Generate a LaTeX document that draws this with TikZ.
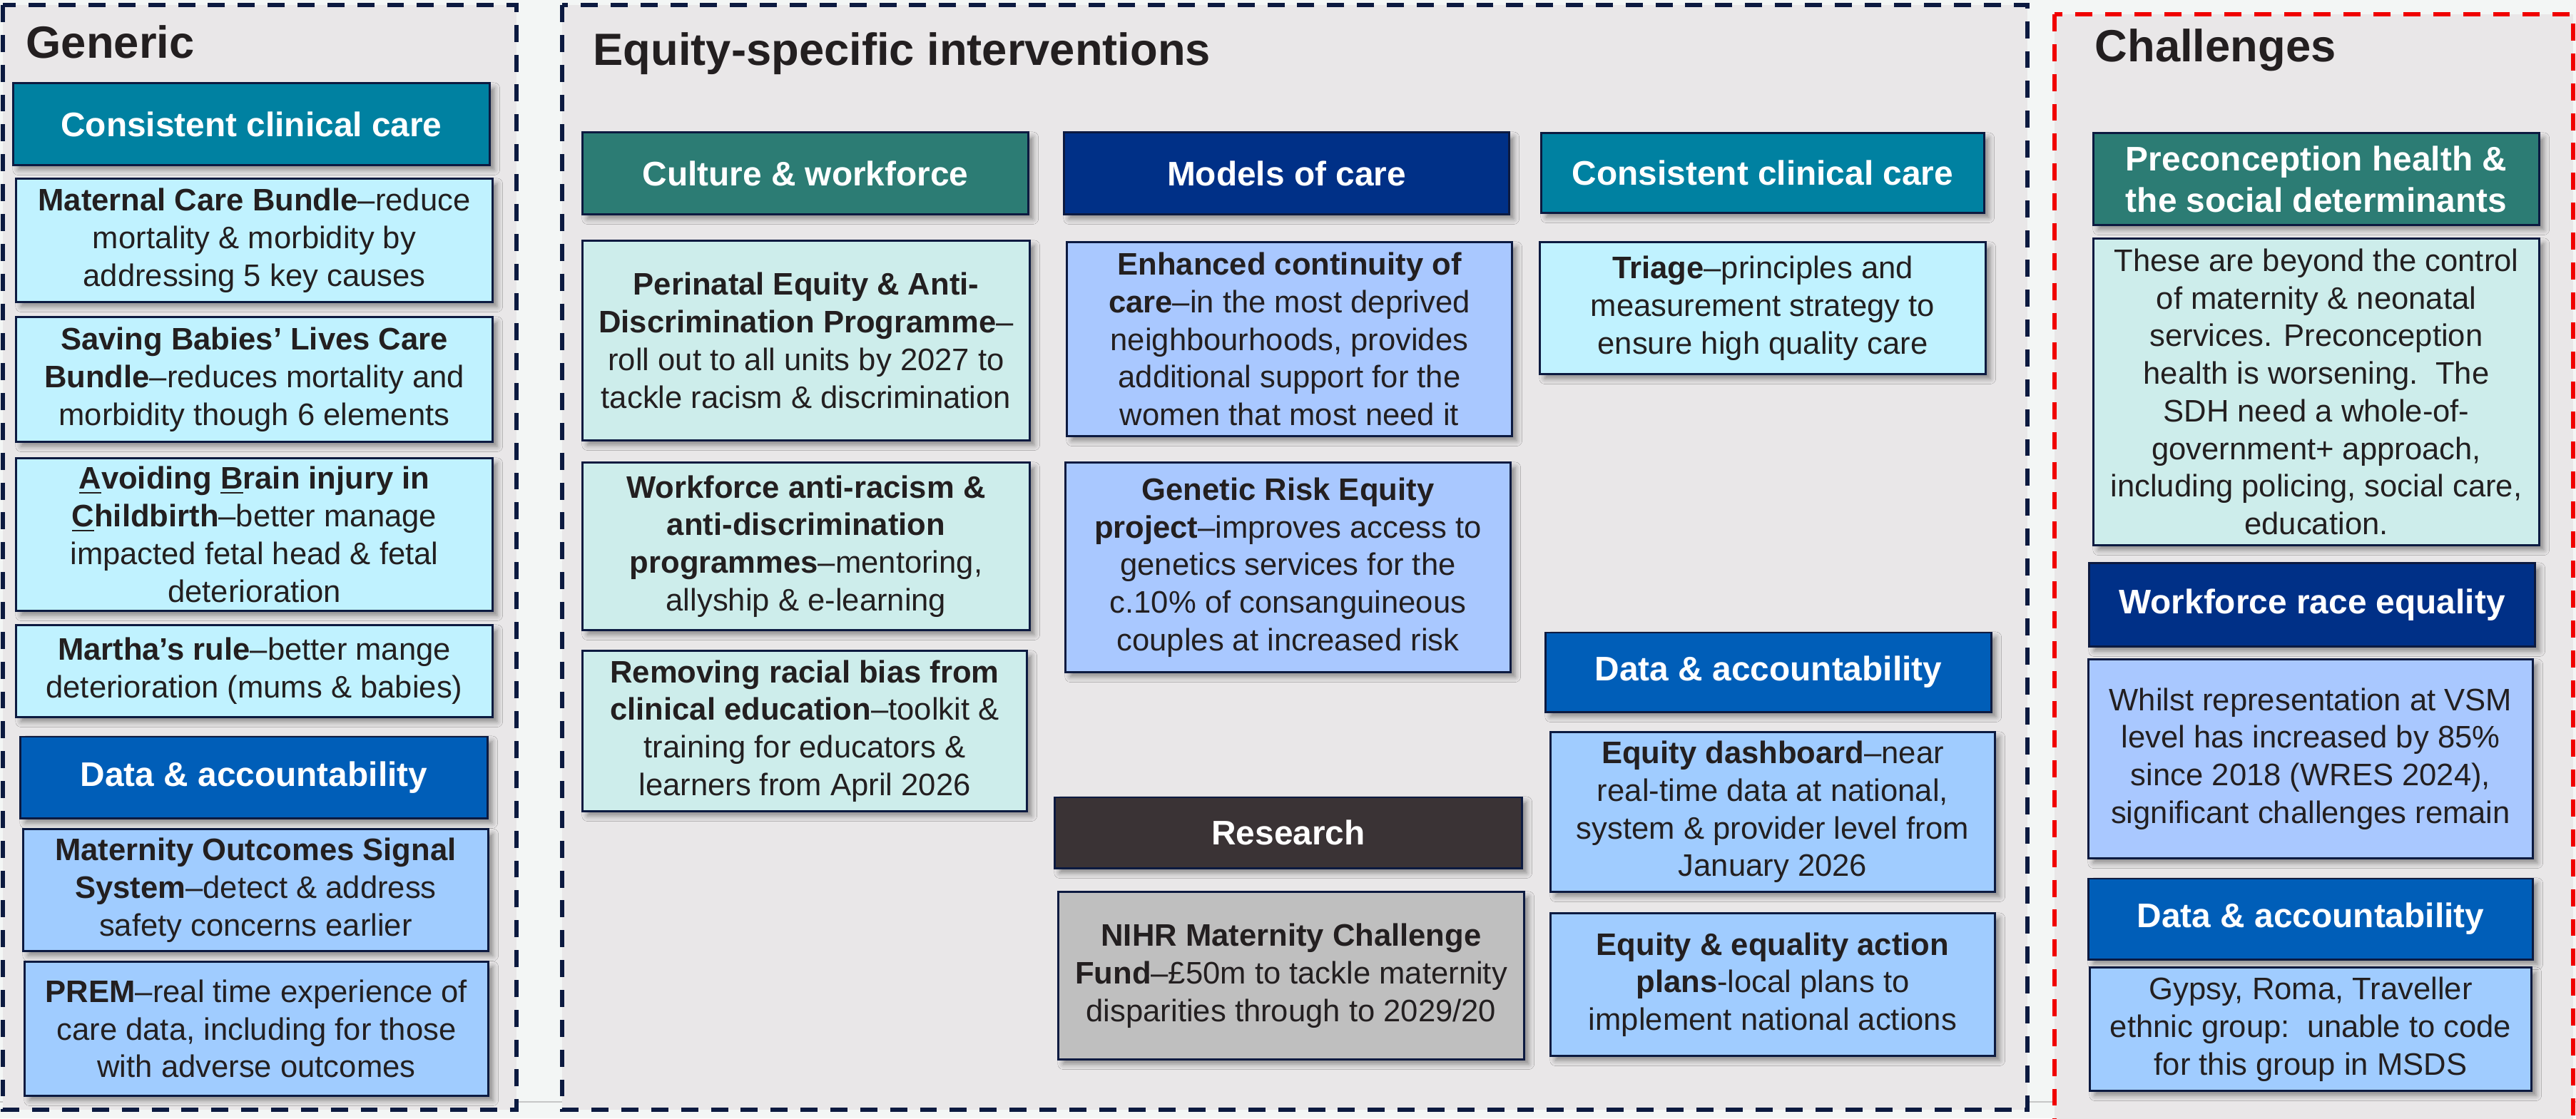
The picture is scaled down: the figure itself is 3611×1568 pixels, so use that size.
\documentclass[tikz,border=0pt]{standalone}
\usepackage{fontspec}
\setmainfont{Liberation Sans}
\usetikzlibrary{shadows.blur}

\definecolor{panelgrey}{HTML}{E9E7E8}
\definecolor{pagebg}{HTML}{F3F6F5}
\definecolor{navyline}{HTML}{0C1A40}
\definecolor{dashred}{HTML}{F00000}
\definecolor{aquahead}{HTML}{0081A1}
\definecolor{tealhead}{HTML}{2C7C74}
\definecolor{navyhead}{HTML}{003087}
\definecolor{bluehead}{HTML}{005EB8}
\definecolor{darkhead}{HTML}{3A3335}
\definecolor{cyanbox}{HTML}{C0F2FF}
\definecolor{tealbox}{HTML}{CDEDEB}
\definecolor{lilacbox}{HTML}{A9C8FF}
\definecolor{skybox}{HTML}{A0CCFF}
\definecolor{greybox}{HTML}{BFBFBF}
\definecolor{inktext}{HTML}{231F20}

\tikzset{
  panel/.style={
    fill=panelgrey,
    draw=navyline,
    line width=1.7pt,
    dash pattern=on 6.8pt off 5.1pt},
  redpanel/.style={
    panel,
    draw=dashred,
    line width=1.6pt},
  title/.style={
    anchor=base west,
    inner sep=0pt,
    text=inktext,
    font=\fontsize{18}{21}\selectfont\bfseries},
  sz/.style 2 args={minimum width=#1cm, minimum height=#2cm},
  box/.style={
    draw=navyline,
    line width=0.85pt,
    align=center,
    inner sep=2pt,
    blur shadow={shadow xshift=1.9pt, shadow yshift=-1.9pt,
      shadow blur radius=2.2pt, shadow opacity=42}},
  head/.style={
    box,
    fill=#1,
    text=white,
    font=\fontsize{13.6}{16.5}\selectfont\bfseries},
  item/.style={
    box,
    fill=#1,
    text=inktext,
    font=\fontsize{12.4}{15}\selectfont}
  }

\begin{document}
\begin{tikzpicture}[x=0.01cm, y=-0.01cm]
  \fill[pagebg] (0,0) rectangle (3611,1568);
  \useasboundingbox (0,0) rectangle (3611,1568);
  \draw[gray!45, line width=0.8pt] (0,1545) -- (3611,1545);

  % the three panels
  \draw[panel] (4,7) rectangle (724,1556);
  \draw[panel] (788,7) rectangle (2842,1556);
  \draw[redpanel] (2880,20) rectangle (3607,1600);

  \node[title] (generic) at (36,81) {Generic};
  \node[title] (equity) at (831,91) {Equity-specific interventions};
  \node[title] (challenges) at (2936,86) {Challenges};

  % generic
  \node[head=aquahead, sz={6.67}{1.14}] (gcare) at (352.5,174) {Consistent clinical care};
  \node[item=cyanbox, sz={6.67}{1.72}] (mcb) at (356.5,337)
    {\textbf{Maternal Care Bundle}–reduce\\ mortality \& morbidity by\\ addressing 5 key causes};
  \node[item=cyanbox, sz={6.67}{1.74}] (sbl) at (356.5,532)
    {\textbf{Saving Babies’ Lives Care}\\ \textbf{Bundle}–reduces mortality and\\ morbidity though 6 elements};
  \node[item=cyanbox, sz={6.67}{2.13}] (abc) at (356.5,749.5)
    {\textbf{\underline{A}voiding \underline{B}rain injury in}\\ \textbf{\underline{C}hildbirth}–better manage\\ impacted fetal head \& fetal\\ deterioration};
  \node[item=cyanbox, sz={6.67}{1.28}] (martha) at (356.5,941)
    {\textbf{Martha’s rule}–better mange\\ deterioration (mums \& babies)};
  \node[head=bluehead, sz={6.54}{1.14}] (gdata) at (356,1090) {Data \& accountability};
  \node[item=skybox, sz={6.51}{1.70}] (moss) at (358.5,1248)
    {\textbf{Maternity Outcomes Signal}\\ \textbf{System}–detect \& address\\ safety concerns earlier};
  \node[item=skybox, sz={6.49}{1.87}] (prem) at (359.5,1442.5)
    {\textbf{PREM}–real time experience of\\ care data, including for those\\ with adverse outcomes};

  % equity-specific
  \node[head=tealhead, sz={6.24}{1.14}] (culture) at (1129,243) {Culture \& workforce};
  \node[head=navyhead, sz={6.23}{1.14}] (models) at (1803.5,243) {Models of care};
  \node[head=aquahead, sz={6.20}{1.11}] (ecare) at (2471,242.5) {Consistent clinical care};
  \node[item=tealbox, sz={6.26}{2.79}] (pead) at (1130,477.5)
    {\textbf{Perinatal Equity \& Anti-}\\ \textbf{Discrimination Programme}–\\ roll out to all units by 2027 to\\ tackle racism \& discrimination};
  \node[item=lilacbox, sz={6.23}{2.71}] (contin) at (1807.5,475.5)
    {\textbf{Enhanced continuity of}\\ \textbf{care}–in the most deprived\\ neighbourhoods, provides\\ additional support for the\\ women that most need it};
  \node[item=cyanbox, sz={6.24}{1.84}] (triage) at (2471,432)
    {\textbf{Triage}–principles and\\ measurement strategy to\\ ensure high quality care};
  \node[item=tealbox, sz={6.26}{2.34}] (antiracism) at (1130,766)
    {\textbf{Workforce anti-racism \&}\\ \textbf{anti-discrimination}\\ \textbf{programmes}–mentoring,\\ allyship \& e-learning};
  \node[item=lilacbox, sz={6.23}{2.93}] (genetic) at (1805.5,795.5)
    {\textbf{Genetic Risk Equity}\\ \textbf{project}–improves access to\\ genetics services for the\\ c.10\% of consanguineous\\ couples at increased risk};
  \node[item=tealbox, sz={6.22}{2.24}] (bias) at (1128,1025)
    {\textbf{Removing racial bias from}\\ \textbf{clinical education}–toolkit \&\\ training for educators \&\\ learners from April 2026};
  \node[head=darkhead, sz={6.54}{0.99}] (research) at (1806,1167.5) {Research};
  \node[item=greybox, sz={6.52}{2.34}] (nihr) at (1810,1368)
    {\textbf{NIHR Maternity Challenge}\\ \textbf{Fund}–£50m to tackle maternity\\ disparities through to 2029/20};
  \node[head=bluehead, sz={6.24}{1.11}] (edata) at (2479,942.5) {Data \& accountability};
  \node[item=skybox, sz={6.22}{2.23}] (dashboard) at (2485,1138.5)
    {\textbf{Equity dashboard}–near\\ real-time data at national,\\ system \& provider level from\\ January 2026};
  \node[item=skybox, sz={6.22}{1.99}] (plans) at (2485,1380.5)
    {\textbf{Equity \& equality action}\\ \textbf{plans}-local plans to\\ implement national actions};

  % challenges
  \node[head=tealhead, sz={6.24}{1.28}] (precon) at (3247,251)
    {Preconception health \&\\ the social determinants};
  \node[item=tealbox, sz={6.24}{4.29}] (sdh) at (3247,549.5)
    {These are beyond the control\\ of maternity \& neonatal\\ services. Preconception\\ health is worsening.\ \ The\\ SDH need a whole-of-\\ government+ approach,\\ including policing, social care,\\ education.};
  \node[head=navyhead, sz={6.24}{1.16}] (wre) at (3241,848) {Workforce race equality};
  \node[item=lilacbox, sz={6.22}{2.78}] (vsm) at (3239,1064)
    {Whilst representation at VSM\\ level has increased by 85\%\\ since 2018 (WRES 2024),\\ significant challenges remain};
  \node[head=bluehead, sz={6.22}{1.13}] (cdata) at (3239,1288.5) {Data \& accountability};
  \node[item=skybox, sz={6.18}{1.72}] (msds) at (3239,1443)
    {Gypsy, Roma, Traveller\\ ethnic group:\ \ unable to code\\ for this group in MSDS};
\end{tikzpicture}
\end{document}
